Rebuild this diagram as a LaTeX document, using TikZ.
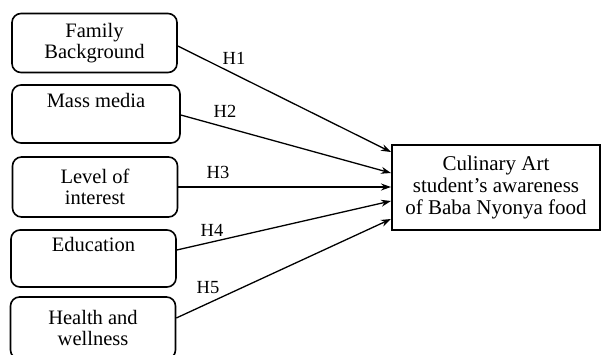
\documentclass[tikz,border=0pt]{standalone}
\usepackage{fontspec}
\setmainfont{Liberation Serif}
\usetikzlibrary{arrows.meta}
\begin{document}
\begin{tikzpicture}[x=1pt,y=-1pt,
  factor/.style={draw,line width=1.6pt,rounded corners=9pt,minimum width=165pt,minimum height=59pt,align=center,font=\fontsize{20.5}{21}\selectfont,inner sep=0pt},
  outcome/.style={draw,line width=2.4pt,minimum width=208pt,minimum height=85pt,align=center,font=\fontsize{21}{22}\selectfont,inner sep=0pt},
  link/.style={line width=1.3pt,-{Stealth[length=10pt,width=7pt]}},
  hlab/.style={font=\fontsize{18.5}{20}\selectfont,inner sep=0pt}]
\useasboundingbox (0,0) rectangle (606,354);
\begin{scope}
\clip (0,0) rectangle (606,354);
\node[factor] (f1) at (94.5,43) {Family\\Background};
\node[factor,minimum width=168pt,minimum height=58pt] (f2) at (96,114) {Mass media\\\strut};
\node[factor,minimum height=60pt] (f3) at (95,187) {Level of\\interest};
\node[factor,minimum height=57pt] (f4) at (93.5,258.5) {Education\\\strut};
\node[factor,minimum height=62pt] (f5) at (93,328) {Health and\\wellness};
\node[outcome] (y) at (496,187.5) {Culinary Art\\student’s awareness\\of Baba Nyonya food};
\coordinate (t1) at (391,152);
\coordinate (t2) at (391,173);
\coordinate (t3) at (391,187);
\coordinate (t4) at (391,201);
\coordinate (t5) at (391,219);
\draw[link] (f1.east |- 0,46) -- (t1);
\draw[link] (f2.east |- 0,115) -- (t2);
\draw[link] (f3.east) -- (t3);
\draw[link] (f4.east |- 0,250) -- (t4);
\draw[link] (f5.east |- 0,318) -- (t5);
\node[hlab] (h1) at (234,58) {H1};
\node[hlab] (h2) at (225,111) {H2};
\node[hlab] (h3) at (218,172) {H3};
\node[hlab] (h4) at (212,230) {H4};
\node[hlab] (h5) at (208,288) {H5};
\end{scope}
\end{tikzpicture}
\end{document}
